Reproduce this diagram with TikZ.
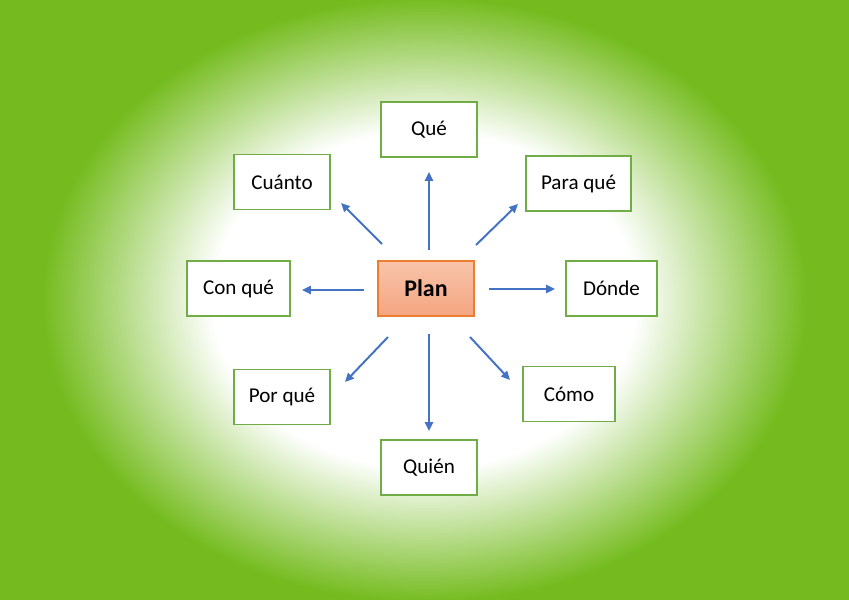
\documentclass[tikz,border=0pt]{standalone}
\usepackage{fontspec}
\setmainfont{Carlito}
\usepackage{tikz}
\usepackage{xcolor}
\usetikzlibrary{arrows.meta, positioning}

\definecolor{bggreen}{RGB}{117,187,31}
\definecolor{boxgreen}{RGB}{112,173,71}
\definecolor{planline}{RGB}{237,125,49}
\definecolor{plantop}{RGB}{248,196,170}
\definecolor{planbot}{RGB}{244,165,128}
\definecolor{arrowblue}{RGB}{68,114,196}

\pgfdeclareradialshading{glow}{\pgfpoint{0bp}{0bp}}{%
  color(0bp)=(white); color(12.5bp)=(white); color(17.5bp)=(bggreen!50);
  color(22.5bp)=(bggreen); color(50bp)=(bggreen)}

\begin{document}
\begin{tikzpicture}[x=0.025cm, y=-0.025cm,
    qbox/.style={draw=boxgreen, line width=1.4pt, fill=white,
      minimum height=1.375cm, inner sep=2pt, font=\fontsize{15}{18}\selectfont},
    planbox/.style={draw=planline, line width=1pt, top color=plantop, bottom color=planbot,
      minimum width=2.4cm, minimum height=1.375cm, font=\fontsize{17}{20}\selectfont\bfseries},
    arrow/.style={arrowblue, line width=1.4pt, -{Triangle[length=2.2mm, width=2mm]}}]

        % Background
        \useasboundingbox (0,0) rectangle (849,599);
        \begin{scope}
            \clip (0,0) rectangle (849,599);
            \shade[shading=glow] (0,-36) rectangle (849,636);
        \end{scope}

        % Centre
        \node[planbox] (plan) at (426,288.5) {Plan};

        % Questions
        \node[qbox, minimum width=2.4cm]   (que)    at (429,129.5) {Qué};
        \node[qbox, minimum width=2.4cm]   (cuanto) at (282,182)   {Cuánto};
        \node[qbox, minimum width=2.625cm] (parque) at (578.5,183.5) {Para qué};
        \node[qbox, minimum width=2.575cm] (conque) at (238.5,288.5) {Con qué};
        \node[qbox, minimum width=2.275cm] (donde)  at (611.5,288.5) {Dónde};
        \node[qbox, minimum width=2.4cm]   (porque) at (282,397)   {Por qué};
        \node[qbox, minimum width=2.3cm]   (como)   at (569,394)   {Cómo};
        \node[qbox, minimum width=2.4cm]   (quien)  at (429,467.5) {Quién};

        % Arrow ends
        \coordinate (que-a) at (429,250);    \coordinate (que-b) at (429,172);
        \coordinate (parque-a) at (476,245); \coordinate (parque-b) at (518,204);
        \coordinate (donde-a) at (489,289);  \coordinate (donde-b) at (555,289);
        \coordinate (como-a) at (470,337);   \coordinate (como-b) at (510,380);
        \coordinate (quien-a) at (429,334);  \coordinate (quien-b) at (429,431);
        \coordinate (porque-a) at (388,337); \coordinate (porque-b) at (345,382);
        \coordinate (conque-a) at (364,290); \coordinate (conque-b) at (302,290);
        \coordinate (cuanto-a) at (382,244); \coordinate (cuanto-b) at (341,203);

        % Arrows
        \foreach \k in {que, parque, donde, como, quien, porque, conque, cuanto} {
            \draw[arrow] (\k-a) -- (\k-b);
        }
    \end{tikzpicture}
\end{document}
